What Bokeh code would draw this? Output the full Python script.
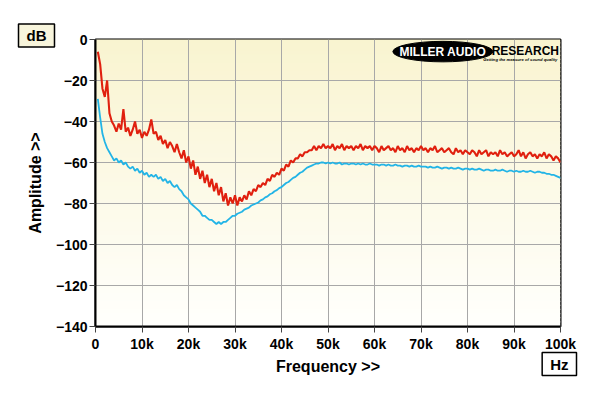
import numpy as np
from bokeh.plotting import figure
from bokeh.models import Range1d, FixedTicker, Label, Title
from bokeh.embed import file_html
from bokeh.resources import INLINE

# ---------------- data ----------------
freq_step_hz = 500  # spectra sampled every 0.5 kHz, from 0.5 kHz to 100 kHz

red_db = [
    -6, -12, -24, -28, -20, -36, -40, -42, -45, -41,
    -44, -34, -45, -43, -47, -44, -40, -46, -44, -48,
    -45, -47, -44, -39, -46, -45, -49, -47, -51, -49,
    -53, -50, -52, -55, -51, -55, -58, -54, -60, -57,
    -63, -59, -66, -62, -68, -64, -70, -66, -72, -68,
    -74, -70, -76, -72, -79, -75, -81, -77, -80, -76,
    -81, -77, -79, -76, -78, -74, -76, -73, -74, -71,
    -72, -70, -71, -68, -69, -66, -67, -65, -66, -63,
    -64, -61, -62, -59, -60, -58, -58, -56, -57, -55,
    -55, -54, -54, -52, -54, -52, -53, -51, -53, -52,
    -53, -51, -54, -52, -53, -51, -54, -52, -53, -52,
    -54, -52, -53, -51, -54, -52, -53, -52, -54, -52,
    -53, -55, -52, -54, -53, -52, -54, -53, -55, -52,
    -54, -53, -55, -52, -54, -53, -55, -53, -54, -52,
    -54, -53, -55, -53, -54, -52, -55, -54, -53, -55,
    -54, -53, -55, -56, -53, -55, -54, -56, -54, -55,
    -56, -54, -55, -57, -54, -56, -55, -54, -57, -55,
    -56, -55, -57, -54, -56, -55, -57, -56, -55, -57,
    -56, -54, -57, -55, -58, -56, -55, -57, -56, -58,
    -56, -57, -55, -58, -56, -57, -59, -57, -58, -60,
]

cyan_db = [
    -29, -38, -46, -50, -53, -55, -57, -59, -58, -60,
    -59, -61, -60, -62, -63, -62, -64, -63, -65, -64,
    -66, -65, -67, -66, -67, -66, -68, -67, -69, -68,
    -70, -69, -71, -72, -71, -73, -74, -76, -77, -78,
    -80, -81, -82, -83, -84, -86, -86, -87, -88, -88,
    -89, -90, -89, -90, -89, -89, -88, -87, -86, -86,
    -85, -84.5, -84, -83, -82.5, -82, -81, -80.5, -80, -79.5,
    -78.5, -78, -77, -76.5, -75.5, -75, -74, -73.5, -72.5, -72,
    -71, -70, -69.5, -68.5, -67.5, -67, -66, -65, -64.5, -63.5,
    -62.5, -62, -61.5, -61, -60.5, -60.5, -60, -60, -60.5, -60,
    -60.5, -60, -60.5, -60.5, -60, -61, -60.5, -60.5, -61, -60.5,
    -60.5, -61, -60.5, -61, -60.5, -61, -61, -60.5, -61, -61,
    -61, -61.5, -61, -61, -61.5, -61, -61.5, -61.5, -61, -61.5,
    -61.5, -62, -61.5, -61.5, -62, -61.5, -62, -62, -61.5, -62,
    -62, -62, -62.5, -62, -62.5, -62.5, -62, -62.5, -63, -62.5,
    -62.5, -63, -62.5, -63, -63, -62.5, -63, -63.5, -63, -63,
    -63.5, -63, -63.5, -63.5, -63, -63.5, -64, -63.5, -63.5, -64,
    -64, -63.5, -64, -64, -63.5, -64, -64.5, -64, -64, -64.5,
    -64, -64.5, -64.5, -64, -64.5, -64.5, -64, -64.5, -65, -64.5,
    -64.5, -65, -65, -65.5, -65.5, -66, -66, -66.5, -67, -67.5,
]

x_ticks = [0, 10000, 20000, 30000, 40000, 50000, 60000, 70000, 80000, 90000, 100000]
x_tick_labels = ["0", "10k", "20k", "30k", "40k", "50k", "60k", "70k", "80k", "90k", "100k"]
y_ticks = [0, -20, -40, -60, -80, -100, -120, -140]

freq_hz = [(i + 1) * freq_step_hz for i in range(len(red_db))]

FONT = "Liberation Sans"

# ---------------- figure ----------------
p = figure(width=600, height=396, output_backend="svg", toolbar_location=None,
           x_range=Range1d(0, 100000), y_range=Range1d(-140, 0),
           min_border_left=95, min_border_right=40, min_border_top=39, min_border_bottom=70,
           background_fill_color="white", border_fill_color="white")

# frame background gradient (cream at top to white at bottom)
n_bands = 70
band_edges = np.linspace(0, -140, n_bands + 1)
top_rgb = np.array([249, 244, 208])
bot_rgb = np.array([255, 255, 252])
band_colors = []
for i in range(n_bands):
    t = i / (n_bands - 1)
    c = (top_rgb * (1 - t) + bot_rgb * t).round().astype(int)
    band_colors.append("#%02x%02x%02x" % tuple(c))
p.quad(left=0, right=100000, top=list(band_edges[:-1] + 0.6), bottom=list(band_edges[1:]),
       fill_color=band_colors, line_color=None, level="image")

# grid
p.xgrid.ticker = FixedTicker(ticks=x_ticks)
p.ygrid.ticker = FixedTicker(ticks=y_ticks)
p.grid.grid_line_color = "#a8a8a8"
p.grid.grid_line_width = 1

# outline / axes
p.outline_line_color = "black"
p.outline_line_width = 2
p.outline_line_alpha = 1

p.xaxis.ticker = FixedTicker(ticks=x_ticks)
p.xaxis.major_label_overrides = {t: l for t, l in zip(x_ticks, x_tick_labels)}
p.yaxis.ticker = FixedTicker(ticks=y_ticks)
for ax in (p.xaxis, p.yaxis):
    ax.axis_line_color = "black"
    ax.axis_line_width = 2
    ax.major_tick_out = 6
    ax.major_tick_in = 0
    ax.major_tick_line_color = "#444444"
    ax.minor_tick_line_color = None
    ax.major_label_text_font = FONT
    ax.major_label_text_font_style = "bold"
    ax.major_label_text_font_size = "14px"
    ax.major_label_text_color = "black"
    ax.axis_label_text_font = FONT
    ax.axis_label_text_font_style = "bold"
    ax.axis_label_text_font_size = "16px"
    ax.axis_label_text_color = "black"
p.xaxis.axis_label = "Frequency >>"
p.yaxis.axis_label = "Amplitude >>"
p.xaxis.major_label_standoff = 3
p.yaxis.major_label_standoff = 2
p.xaxis.axis_label_standoff = 3
p.yaxis.axis_label_standoff = 9

# data lines
p.line(freq_hz, cyan_db, line_color="#22b4e6", line_width=1.8)
p.line(freq_hz, red_db, line_color="#e0200f", line_width=2.1)

# logo (decoration)
p.ellipse(x=[74700], y=[-5.9], width=[21500], height=[10], fill_color="black", line_color="black")
p.add_layout(Label(x=74700, y=-5.9, text="MILLER AUDIO", text_color="white",
                   text_font=FONT, text_font_style="bold", text_font_size="12px",
                   text_align="center", text_baseline="middle"))
p.add_layout(Label(x=85200, y=-5.5, text="RESEARCH", text_color="black",
                   text_font=FONT, text_font_style="bold", text_font_size="12px",
                   text_align="left", text_baseline="middle"))
p.add_layout(Label(x=83400, y=-9.9, text="Getting the measure of sound quality", text_color="black",
                   text_font=FONT, text_font_style="bold italic", text_font_size="4.2px",
                   text_align="left", text_baseline="middle"))

# unit boxes as titles in the side panels (not clipped by the frame)
db_box = Title(text="dB", align="left", offset=-77, standoff=-15,
               text_font=FONT, text_font_style="bold", text_font_size="15px",
               text_color="black",
               background_fill_color="#f8f5dc", border_line_color="black",
               border_line_width=1.5, padding=dict(x=8, y=3))
p.add_layout(db_box, "above")
hz_box = Title(text="Hz", align="right", vertical_align="top", offset=-16, standoff=-50,
               text_font=FONT, text_font_style="bold", text_font_size="15px",
               text_color="black",
               background_fill_color="white", border_line_color="black",
               border_line_width=1.5, padding=dict(x=8, y=3))
p.add_layout(hz_box, "below")

open("out.html", "w").write(file_html(p, INLINE))
